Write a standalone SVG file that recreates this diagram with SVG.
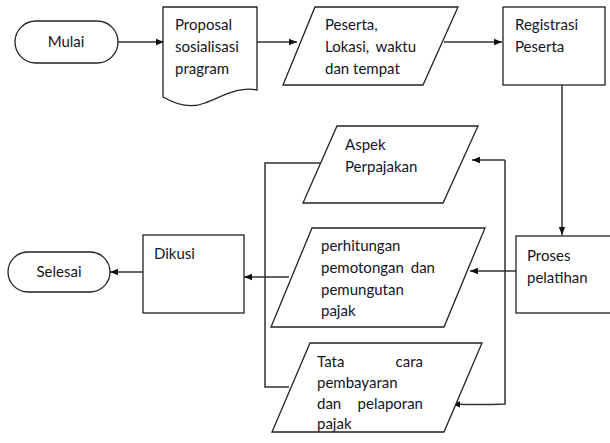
<svg xmlns="http://www.w3.org/2000/svg" width="610" height="443" viewBox="0 0 610 443">
<defs>
<style>
.s{fill:#fff;stroke:#222;stroke-width:1.3}
.c{fill:none;stroke:#333;stroke-width:1.5}
text{font-family:Lato,"Liberation Sans",Arial,sans-serif;font-size:15px;fill:#14141f}
</style>
<marker id="ah" viewBox="0 0 10 10" refX="10" refY="5" markerWidth="8" markerHeight="8" markerUnits="userSpaceOnUse" orient="auto">
<path d="M0,1 L10,5 L0,9 Z" fill="#111"/>
</marker>
</defs>
<rect width="610" height="443" fill="#fff"/>
<g id="connectors">
<path class="c" d="M118,42 H164" marker-end="url(#ah)"/>
<path class="c" d="M257,42 H297" marker-end="url(#ah)"/>
<path class="c" d="M444,42 H502" marker-end="url(#ah)"/>
<path class="c" d="M562,85 V235" marker-end="url(#ah)"/>
<path class="c" d="M516,271 H470" marker-end="url(#ah)"/>
<path class="c" d="M505,160 H472" marker-end="url(#ah)"/>
<path class="c" d="M505,160 V404 Q480,405 452,404" marker-end="url(#ah)"/>
<path class="c" d="M289,277 H244" marker-end="url(#ah)"/>
<path class="c" d="M143,272 H110" marker-end="url(#ah)"/>
<path class="c" d="M320,163 H265 V387 H289"/>
</g>
<g id="mulai">
<rect class="s" x="15" y="21" width="103" height="42" rx="21"/>
<text x="66" y="47" text-anchor="middle">Mulai</text>
</g>
<g id="proposal">
<path class="s" d="M163,7 H257 V90 C240,86 225,95 205,103 C190,109 175,104 163,97 Z"/>
<text x="175" y="30">Proposal</text>
<text x="175" y="52">sosialisasi</text>
<text x="175" y="74">pragram</text>
</g>
<g id="peserta">
<path class="s" d="M315,7 H458 L423,85 H283 Z"/>
<text x="325" y="30">Peserta,</text>
<text x="325" y="52">Lokasi,</text>
<text x="416" y="52" text-anchor="end">waktu</text>
<text x="325" y="74">dan tempat</text>
</g>
<g id="registrasi">
<rect class="s" x="503" y="7" width="102" height="78"/>
<text x="515" y="30">Registrasi</text>
<text x="515" y="52">Peserta</text>
</g>
<g id="proses">
<rect class="s" x="516" y="236" width="100" height="77"/>
<text x="527" y="261">Proses</text>
<text x="527" y="283">pelatihan</text>
</g>
<g id="aspek">
<path class="s" d="M337,126 H478 L443,203 H303 Z"/>
<text x="345" y="150">Aspek</text>
<text x="345" y="172">Perpajakan</text>
</g>
<g id="perhitungan">
<path class="s" d="M312,228 H485 L444,327 H271 Z"/>
<text x="321" y="251">perhitungan</text>
<text x="321" y="273">pemotongan</text>
<text x="435" y="273" text-anchor="end">dan</text>
<text x="321" y="295">pemungutan</text>
<text x="321" y="316">pajak</text>
</g>
<g id="tatacara">
<path class="s" d="M310,343 H482 L444,432 H272 Z"/>
<text x="317" y="367">Tata</text>
<text x="423" y="367" text-anchor="end">cara</text>
<text x="317" y="388">pembayaran</text>
<text x="317" y="409">dan</text>
<text x="423" y="409" text-anchor="end">pelaporan</text>
<text x="317" y="429">pajak</text>
</g>
<g id="dikusi">
<rect class="s" x="143" y="235" width="101" height="78"/>
<text x="154" y="259">Dikusi</text>
</g>
<g id="selesai">
<rect class="s" x="8" y="252" width="102" height="40" rx="20"/>
<text x="59" y="277" text-anchor="middle">Selesai</text>
</g>
</svg>
